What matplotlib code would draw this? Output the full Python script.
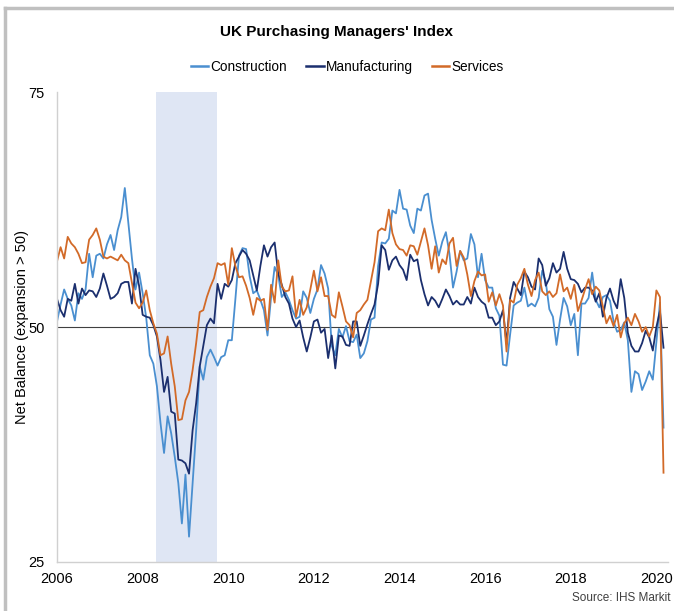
import numpy as np
import matplotlib
matplotlib.use('Agg')
from matplotlib import pyplot as plt
from matplotlib.lines import Line2D

# Monthly PMI readings, Jan 2006 - Mar 2020
construction = [
    50.6, 52.4, 54.0, 53.0, 52.3, 50.7, 53.6, 53.0, 54.0, 57.8, 55.3, 57.6,  # 2006
    57.8, 57.3, 58.8, 59.8, 58.2, 60.3, 61.7, 64.8, 61.0, 57.3, 54.0, 55.8,  # 2007
    53.6, 51.0, 47.0, 46.1, 43.7, 39.8, 36.6, 40.5, 38.7, 36.2, 33.4, 29.1,  # 2008
    34.3, 27.7, 33.4, 39.0, 45.8, 44.4, 46.8, 47.6, 46.8, 45.9, 46.8, 47.0,  # 2009
    48.6, 48.6, 53.0, 57.6, 58.4, 58.3, 55.4, 53.6, 53.9, 52.9, 51.8, 49.1,  # 2010
    53.2, 56.4, 55.5, 53.2, 53.7, 52.9, 51.8, 50.9, 51.1, 53.8, 53.1, 51.5,  # 2011
    53.0, 54.0, 56.6, 55.7, 54.1, 48.0, 47.0, 49.8, 48.9, 50.1, 48.5, 48.4,  # 2012
    49.2, 46.7, 47.2, 48.5, 50.8, 51.0, 56.5, 59.0, 58.9, 59.4, 62.4, 62.1,  # 2013
    64.6, 62.6, 62.5, 60.8, 60.0, 62.6, 62.4, 64.0, 64.2, 61.4, 59.4, 57.6,  # 2014
    59.1, 60.1, 57.8, 54.2, 55.9, 58.1, 57.1, 57.3, 59.9, 58.8, 55.3, 57.8,  # 2015
    55.0, 54.2, 54.2, 52.0, 51.2, 46.0, 45.9, 49.2, 52.3, 52.6, 52.8, 54.2,  # 2016
    52.2, 52.5, 52.2, 53.1, 56.0, 54.8, 51.9, 51.1, 48.1, 50.8, 53.1, 52.2,  # 2017
    50.2, 51.4, 47.0, 52.5, 52.5, 53.1, 55.8, 52.9, 52.1, 53.2, 53.4, 52.8,  # 2018
    50.6, 49.5, 49.7, 50.5, 48.6, 43.1, 45.3, 45.0, 43.3, 44.2, 45.3, 44.4,  # 2019
    48.4, 52.6, 39.3,                                                        # 2020
]
manufacturing = [
    53.0, 51.8, 51.1, 53.0, 52.8, 54.6, 52.5, 54.1, 53.4, 53.9, 53.8, 53.2,  # 2006
    54.1, 55.7, 54.4, 53.0, 53.2, 53.6, 54.6, 54.8, 54.8, 52.5, 56.2, 54.4,  # 2007
    51.3, 51.1, 51.0, 50.2, 49.0, 46.5, 43.1, 44.7, 41.0, 40.8, 35.9, 35.8,  # 2008
    35.5, 34.4, 39.0, 41.9, 45.8, 48.0, 50.2, 50.9, 50.4, 54.6, 53.0, 54.6,  # 2009
    54.3, 55.0, 56.8, 57.5, 58.2, 57.8, 57.1, 55.5, 53.9, 56.5, 58.7, 57.5,  # 2010
    58.5, 59.0, 55.7, 54.5, 53.2, 52.5, 50.9, 50.0, 50.7, 48.9, 47.4, 48.9,  # 2011
    50.6, 50.8, 49.4, 49.8, 46.7, 49.1, 45.6, 49.1, 49.0, 48.1, 48.0, 50.6,  # 2012
    50.6, 48.0, 49.1, 50.3, 51.4, 52.4, 54.6, 58.7, 58.2, 56.1, 57.1, 57.5,  # 2013
    56.6, 56.1, 55.0, 57.7, 57.0, 57.2, 55.0, 53.5, 52.3, 53.2, 52.8, 52.1,  # 2014
    53.0, 54.0, 53.3, 52.4, 52.8, 52.4, 52.4, 53.2, 52.5, 54.2, 53.2, 52.7,  # 2015
    52.4, 51.0, 51.0, 50.2, 50.6, 51.8, 48.2, 53.1, 54.8, 54.1, 53.4, 55.9,  # 2016
    55.3, 54.3, 54.0, 57.3, 56.6, 54.4, 55.2, 56.8, 55.8, 56.2, 58.0, 56.2,  # 2017
    55.1, 55.0, 54.6, 53.7, 54.2, 54.2, 53.9, 52.7, 53.6, 51.1, 53.1, 54.1,  # 2018
    52.8, 52.0, 55.1, 53.1, 49.4, 48.0, 47.4, 47.4, 48.3, 49.6, 48.9, 47.5,  # 2019
    50.0, 51.7, 47.8,                                                        # 2020
]
services = [
    57.0, 58.5, 57.3, 59.6, 58.9, 58.5, 57.8, 56.8, 56.9, 59.3, 59.8, 60.5,  # 2006
    59.3, 57.5, 57.3, 57.5, 57.3, 57.1, 57.7, 57.1, 56.8, 54.7, 52.6, 52.0,  # 2007
    52.6, 53.9, 51.8, 50.4, 49.3, 47.0, 47.2, 49.0, 46.1, 43.7, 40.1, 40.2,  # 2008
    42.2, 43.1, 45.4, 48.3, 51.6, 51.8, 53.2, 54.3, 55.2, 56.8, 56.6, 56.8,  # 2009
    54.5, 58.4, 56.5, 55.3, 55.4, 54.4, 53.1, 51.3, 53.1, 52.8, 53.0, 49.7,  # 2010
    54.5, 52.6, 57.1, 54.3, 53.8, 53.9, 55.4, 51.1, 52.9, 51.3, 52.1, 54.0,  # 2011
    56.0, 53.8, 55.3, 53.3, 53.3, 51.3, 51.0, 53.7, 52.2, 50.6, 50.2, 48.9,  # 2012
    51.5, 51.8, 52.4, 52.9, 54.9, 56.9, 60.2, 60.5, 60.3, 62.5, 60.0, 58.8,  # 2013
    58.3, 58.2, 57.6, 58.7, 58.6, 57.7, 59.1, 60.5, 58.7, 56.2, 58.6, 55.8,  # 2014
    57.2, 56.7, 58.9, 59.5, 56.5, 58.1, 57.4, 55.6, 53.3, 54.9, 55.9, 55.5,  # 2015
    55.6, 52.7, 53.7, 52.3, 53.5, 52.3, 47.4, 52.9, 52.6, 54.5, 55.2, 56.2,  # 2016
    54.5, 53.3, 55.0, 55.8, 53.8, 53.4, 53.8, 53.2, 53.6, 55.6, 53.8, 54.2,  # 2017
    53.0, 54.5, 51.7, 52.8, 54.0, 55.1, 53.5, 54.3, 53.9, 52.2, 50.4, 51.2,  # 2018
    50.1, 51.3, 48.9, 50.4, 51.0, 50.2, 51.4, 50.6, 49.5, 50.0, 49.0, 50.0,  # 2019
    53.9, 53.2, 34.5,                                                        # 2020
]

series_names = ['Construction', 'Manufacturing', 'Services']
series_colors = ['#4a8fd0', '#1b2f6e', '#d26a28']
year_ticks = [2006, 2008, 2010, 2012, 2014, 2016, 2018, 2020]
y_ticks = [25, 50, 75]
recession = (2008.32, 2009.74)

plt.rcParams['font.family'] = ['Liberation Sans', 'DejaVu Sans']

fig = plt.figure(figsize=(6.74, 6.11), dpi=100)
ax = fig.add_axes([0.0846, 0.0802, 0.9064, 0.7690])

months = 2006 + np.arange(len(services)) / 12.0

ax.axvspan(recession[0], recession[1], color='#dfe6f4', zorder=0, lw=0)
ax.axhline(50, color='#404040', lw=0.8, zorder=1)

for values, name, color in zip([construction, manufacturing, services], series_names, series_colors):
    ax.plot(months, values, color=color, lw=1.3, label=name, zorder=2)

ax.set_xlim(2006, 2020.27)
ax.set_ylim(25, 75)
ax.set_xticks(year_ticks)
ax.set_xticklabels([str(y) for y in year_ticks], fontsize=10.5)
ax.set_yticks(y_ticks)
ax.set_yticklabels([str(y) for y in y_ticks], fontsize=10.5)
ax.tick_params(axis='x', length=0, pad=7)
ax.tick_params(axis='y', length=0, pad=9)

for side in ['top', 'right']:
    ax.spines[side].set_visible(False)
for side in ['left', 'bottom']:
    ax.spines[side].set_color('#d0d0d0')
    ax.spines[side].set_linewidth(1.0)

ax.set_ylabel('Net Balance (expansion > 50)', fontsize=10.5)
ax.yaxis.set_label_coords(-0.046, 0.5)

fig.text(0.5, 0.947, "UK Purchasing Managers' Index", ha='center', va='center',
         fontsize=11, fontweight='bold')

handles = [Line2D([0], [0], color=c, lw=1.8) for c in series_colors]
fig.legend(handles, series_names, loc='center', bbox_to_anchor=(0.515, 0.891), ncol=3,
           frameon=False, fontsize=9.8, handlelength=1.3, handletextpad=0.15, columnspacing=1.4)

fig.text(0.995, 0.012, 'Source: IHS Markit', ha='right', va='bottom', fontsize=8.5, color='#404040')

# grey frame on the top and left edges
fig.add_artist(Line2D([0.008, 1.0], [0.987, 0.987], color='#c0c0c0', lw=2.5, transform=fig.transFigure))
fig.add_artist(Line2D([0.008, 0.008], [0.0, 0.987], color='#c0c0c0', lw=2.5, transform=fig.transFigure))

fig.savefig('out.png', dpi=100)
